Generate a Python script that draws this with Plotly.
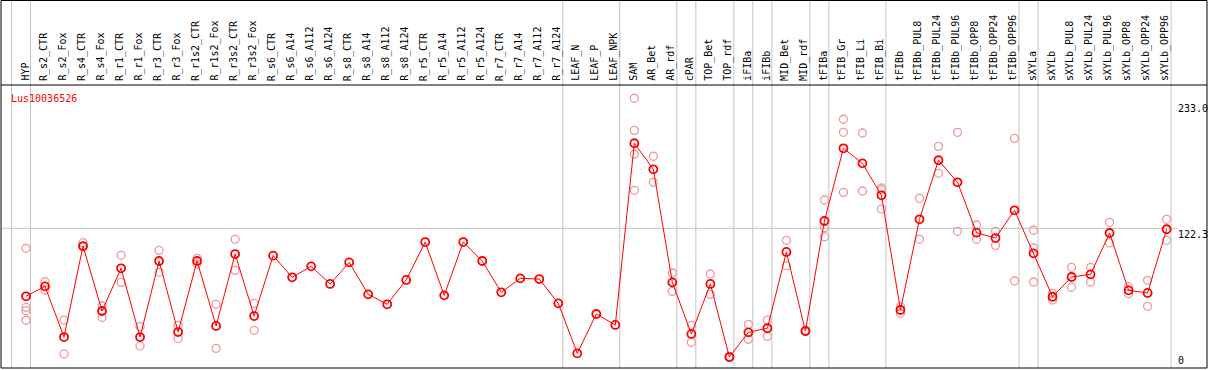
import plotly.graph_objects as go

categories = ["HYP", "R_s2_CTR", "R_s2_Fox", "R_s4_CTR", "R_s4_Fox", "R_r1_CTR", "R_r1_Fox",
              "R_r3_CTR", "R_r3_Fox", "R_r1s2_CTR", "R_r1s2_Fox", "R_r3s2_CTR", "R_r3s2_Fox",
              "R_s6_CTR", "R_s6_A14", "R_s6_A112", "R_s6_A124", "R_s8_CTR", "R_s8_A14",
              "R_s8_A112", "R_s8_A124", "R_r5_CTR", "R_r5_A14", "R_r5_A112", "R_r5_A124",
              "R_r7_CTR", "R_r7_A14", "R_r7_A112", "R_r7_A124", "LEAF_N", "LEAF_P", "LEAF_NPK",
              "SAM", "AR_Bet", "AR_rdf", "cPAR", "TOP_Bet", "TOP_rdf", "iFIBa", "iFIBb",
              "MID_Bet", "MID_rdf", "tFIBa", "tFIB_Gr", "tFIB_Li", "tFIB_Bi", "tFIBb",
              "tFIBb_PUL8", "tFIBb_PUL24", "tFIBb_PUL96", "tFIBb_OPP8", "tFIBb_OPP24",
              "tFIBb_OPP96", "sXYLa", "sXYLb", "sXYLb_PUL8", "sXYLb_PUL24", "sXYLb_PUL96",
              "sXYLb_OPP8", "sXYLb_OPP24", "sXYLb_OPP96"]

means = [62.8, 71.5, 27.1, 106.8, 49.9, 87.3, 27.1, 93.7, 31.5, 93.7, 36.8, 99.8, 45.5,
         98.4, 79.4, 89.0, 73.6, 92.5, 64.5, 55.8, 77.1, 110.3, 63.6, 110.3, 93.7,
         66.3, 78.5, 77.9, 56.6, 12.8, 47.3, 37.7,
         196.8, 174.0, 75.0, 29.8, 73.6, 9.6, 31.2, 34.8, 101.6, 32.4, 128.7, 192.4,
         179.2, 151.2, 50.8, 130.2, 181.9, 162.6, 118.5, 113.8, 138.1, 100.4, 62.4,
         79.7, 82.0, 118.2, 68.0, 65.7, 121.5]

replicates = [
    [104.8, 53.1, 50.2, 41.8], [75.6, 68.3], [42.0, 12.3], [109.7, 106.0], [54.3, 44.4],
    [98.7, 75.0], [36.2, 19.3], [103.0, 83.8], [37.4, 25.7], [96.0, 91.0], [55.8, 17.2],
    [112.7, 85.5], [56.6, 33.0],
    [], [], [], [], [], [], [], [], [], [], [], [], [], [], [], [], [], [], [],
    [236.2, 208.1, 187.4, 155.6], [185.4, 162.6], [83.2, 67.1], [37.4, 22.5], [82.3, 64.5],
    [9.0, 10.2], [38.2, 25.1], [42.0, 27.7], [111.8, 89.6], [33.0, 31.8],
    [147.1, 122.9, 115.0], [217.8, 206.4, 153.8], [205.8, 155.0], [157.6, 155.9, 139.2],
    [53.7, 47.9], [148.6, 112.7], [194.1, 170.5], [206.4, 119.7], [125.2, 112.7],
    [119.7, 107.4], [201.1, 76.2], [120.6, 105.1, 75.3], [65.4, 59.5], [88.2, 70.7],
    [88.2, 75.3], [127.6, 109.5], [71.2, 65.1], [76.8, 54.0], [130.2, 111.8],
]

separator_after = [-1, 0, 28, 31, 34, 35, 37, 38, 39, 41, 42, 45, 52, 53, 60]
axis_labels = ["233.0", "122.3", "0"]
axis_values = [233.0, 122.3, 0.0]
gene_name = "Lus10036526"

idx = list(range(len(categories)))
rep_x, rep_y = [], []
for i, reps in enumerate(replicates):
    for v in reps:
        rep_x.append(i)
        rep_y.append(v)

RED = "#ff0000"
PINK = "#eb9a9a"
GRAY = "#c4c4c4"
MONO = "DejaVu Sans Mono"

fig = go.Figure()
fig.add_trace(go.Scatter(x=rep_x, y=rep_y, mode="markers",
                         marker=dict(symbol="circle-open", size=8, color=PINK,
                                     line=dict(width=1.3, color=PINK)),
                         hoverinfo="skip", showlegend=False))
fig.add_trace(go.Scatter(x=idx, y=means, mode="lines+markers",
                         line=dict(color=RED, width=1),
                         marker=dict(symbol="circle-open", size=8, color=RED,
                                     line=dict(width=1.8, color=RED)),
                         showlegend=False))

H_PLOT = 283.0
TOP = 1 + 85.0 / H_PLOT
shapes = []
for s in separator_after:
    xs = s + 0.235
    shapes.append(dict(type="line", xref="x", yref="paper", x0=xs, x1=xs, y0=0, y1=TOP,
                       line=dict(color=GRAY, width=1), layer="below"))
shapes.append(dict(type="line", xref="paper", yref="y", x0=0, x1=(1177 - 1) / 1206.0,
                   y0=122.3, y1=122.3, line=dict(color=GRAY, width=1), layer="below"))
blk = dict(color="black", width=1)
ytop = TOP - 0.5 / H_PLOT
shapes += [
    dict(type="line", xref="paper", yref="paper", x0=0, x1=1, y0=1, y1=1, line=blk),
    dict(type="line", xref="paper", yref="paper", x0=0, x1=1, y0=0, y1=0, line=blk),
    dict(type="line", xref="paper", yref="paper", x0=0, x1=0, y0=0, y1=ytop, line=blk),
    dict(type="line", xref="paper", yref="paper", x0=1, x1=1, y0=0, y1=ytop, line=blk),
    dict(type="line", xref="paper", yref="paper", x0=0, x1=1, y0=ytop, y1=ytop, line=blk),
]

annotations = []
for i, c in enumerate(categories):
    annotations.append(dict(x=i, y=1, xref="x", yref="paper", text=c, textangle=-90,
                            showarrow=False, xanchor="center", yanchor="bottom",
                            yshift=2, xshift=-1.5,
                            font=dict(family=MONO, size=10, color="black")))
for lab, v in zip(axis_labels, axis_values):
    annotations.append(dict(x=(1176 - 1) / 1206.0, y=v, xref="paper", yref="y", text=lab,
                            showarrow=False, xanchor="left",
                            yanchor="bottom" if v == 0 else "top",
                            yshift=0 if v == 0 else 1,
                            font=dict(family=MONO, size=10, color="black")))
annotations.append(dict(x=(9 - 1) / 1206.0, y=(368 - 98) / 1.142, xref="paper", yref="y",
                        text=gene_name, showarrow=False, xanchor="left", yanchor="middle",
                        font=dict(family=MONO, size=10, color=RED)))

fig.update_layout(
    width=1209, height=370,
    margin=dict(l=1, r=2, t=85, b=2, pad=0),
    paper_bgcolor="white", plot_bgcolor="white",
    xaxis=dict(range=[(1 - 26) / 19.01, (1207 - 26) / 19.01], showgrid=False,
               zeroline=False, showticklabels=False, ticks="", fixedrange=True),
    yaxis=dict(range=[0, H_PLOT / 1.142], showgrid=False, zeroline=False,
               showticklabels=False, ticks="", fixedrange=True),
    shapes=shapes, annotations=annotations,
)

fig.write_html("out.html",
               config={"displayModeBar": False},
               post_script="document.body.style.margin='0';document.body.style.overflow='hidden';")
